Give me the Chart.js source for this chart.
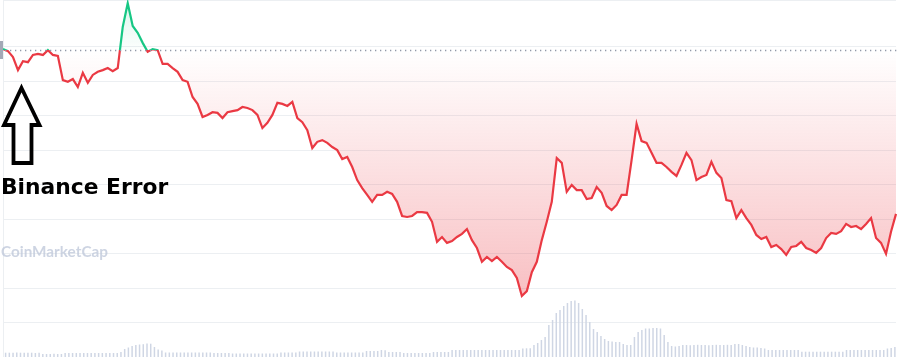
<!DOCTYPE html>
<html>
<head>
<meta charset="utf-8">
<script src="https://cdn.jsdelivr.net/npm/chart.js@4.4.1/dist/chart.umd.min.js"></script>
<style>
  html, body { margin: 0; padding: 0; background: #ffffff; }
  #wrap { width: 898px; height: 357px; position: relative; }
</style>
</head>
<body>
<div id="wrap"><canvas id="c" width="898" height="357"></canvas></div>
<script>
// ---- data ----
const baselinePrice = 89.0; // opening price (dotted reference line)

const priceValues = [
  89.3, 88.7, 87.0, 83.2, 85.8, 85.5, 87.6, 87.9, 87.6, 89.0,
  87.6, 87.3, 80.3, 79.8, 80.6, 78.3, 82.4, 79.5, 81.8, 82.7,
  83.2, 83.8, 82.9, 83.8, 95.7, 102.6, 96.0, 94.0, 91.1, 88.5,
  89.3, 89.0, 85.0, 85.0, 83.8, 82.7, 80.3, 79.8, 75.4, 73.4,
  69.6, 70.2, 71.0, 70.8, 69.3, 71.0, 71.3, 71.6, 72.5, 72.2,
  71.6, 70.2, 66.4, 67.9, 70.2, 73.7, 73.4, 72.8, 74.0, 69.3,
  68.1, 65.8, 60.6, 62.4, 62.9, 62.1, 60.9, 60.0, 57.4, 58.0,
  55.1, 51.3, 49.0, 47.0, 45.0, 47.0, 47.0, 47.9, 47.3, 45.0,
  40.9, 40.6, 40.9, 42.0, 42.0, 41.8, 39.2, 33.4, 34.8, 33.1,
  33.6, 34.8, 35.7, 37.1, 33.9, 31.6, 27.6, 29.0, 27.8, 29.0,
  27.6, 26.1, 25.2, 22.9, 17.7, 19.1, 24.6, 27.6, 33.9, 39.2,
  45.0, 57.7, 56.3, 47.9, 49.9, 48.4, 48.4, 45.8, 46.1, 49.3,
  47.6, 43.8, 42.6, 44.1, 47.0, 47.0, 57.1, 67.6, 62.6, 62.1,
  59.2, 56.3, 56.3, 55.1, 53.7, 52.5, 55.7, 59.2, 57.1, 51.3,
  52.2, 52.8, 56.6, 53.4, 51.9, 45.5, 45.2, 40.3, 42.6, 40.3,
  38.3, 35.4, 34.2, 34.8, 31.9, 32.5, 31.3, 29.6, 31.9, 32.2,
  33.4, 31.6, 31.0, 30.2, 31.6, 34.5, 36.0, 35.7, 36.5, 38.6,
  37.7, 38.0, 37.1, 38.6, 40.3, 34.5, 33.1, 29.9, 36.3, 41.5
];

const volumeValues = [
  43, 43, 43, 45, 43, 43, 43, 43, 40, 43,
  30, 30, 30, 32, 30, 30,
  40, 40, 40, 40, 40, 40, 40, 40, 40, 40, 40, 40, 40, 40, 40,
  50, 80, 95, 110, 120, 125, 128, 135, 133, 100, 75, 65,
  45, 45, 45, 45, 45, 45, 45, 45, 45, 45, 45, 45, 45,
  40, 40, 40, 40, 40,
  35, 35, 35, 35, 35, 35, 35, 35, 35, 35, 35, 35, 35,
  45, 45, 45, 45, 45,
  55, 55, 55, 55, 55, 55, 55, 55, 55, 55,
  45, 45, 45, 45, 45, 45, 45, 45,
  60, 60, 60, 60, 70, 68,
  50, 50, 50, 50,
  40, 40, 40, 40, 40, 40, 40, 40,
  50, 50, 50, 50, 50,
  70, 70, 70, 70, 70, 70, 70, 70, 70, 70, 70, 70, 70, 70, 70, 70, 70, 70, 70,
  85, 87, 88, 120, 140, 170, 200, 320, 370, 440,
  470, 510, 540, 560, 565, 540, 480, 420, 350, 280,
  250, 210, 180, 160, 155, 150, 150, 130, 120, 120,
  200, 250, 270, 285, 285, 290, 290, 285, 220, 150,
  110, 105, 110,
  120, 120, 118, 120, 122, 120, 120, 118, 120, 122, 120, 120, 122, 120,
  130, 130, 120, 110,
  100, 95, 95, 90, 85,
  70, 70, 70, 70, 70, 70, 70, 70, 70,
  53, 53, 53, 53, 53, 53, 53, 53, 53, 53, 53, 53,
  70, 70, 70, 70, 70, 70, 70, 70, 70, 70, 70,
  85, 90, 100
];

const priceLabels = priceValues.map((_, i) => 't' + i);
const volumeLabels = volumeValues.map((_, i) => 'v' + i);

const priceAxisMax = 103.53;
const priceGridStep = 10;
const volumeAxisMax = 3570;

const annotationText = 'Binance Error';
const watermarkText = 'CoinMarketCap';

// ---- colours ----
const RED = '#ea3943';
const GREEN = '#16c784';

function baseFrac(chart) {
  const a = chart.chartArea;
  const yb = chart.scales.y.getPixelForValue(baselinePrice);
  return Math.min(1, Math.max(0, (yb - a.top) / (a.bottom - a.top)));
}

function lineColor(context) {
  const chart = context.chart;
  const a = chart.chartArea;
  if (!a) return RED;
  const f = baseFrac(chart);
  const g = chart.ctx.createLinearGradient(0, a.top, 0, a.bottom);
  g.addColorStop(0, GREEN);
  g.addColorStop(f, GREEN);
  g.addColorStop(f, RED);
  g.addColorStop(1, RED);
  return g;
}

function fillColor(context) {
  const chart = context.chart;
  const a = chart.chartArea;
  if (!a) return 'rgba(234,57,67,0.15)';
  const f = baseFrac(chart);
  const g = chart.ctx.createLinearGradient(0, a.top, 0, a.bottom);
  g.addColorStop(0, 'rgba(22,199,132,0.16)');
  g.addColorStop(f, 'rgba(22,199,132,0.01)');
  g.addColorStop(f, 'rgba(234,57,67,0.0)');
  g.addColorStop(1, 'rgba(234,57,67,0.40)');
  return g;
}

const decorPlugin = {
  id: 'decor',
  beforeDatasetsDraw(chart) {
    const ctx = chart.ctx;
    ctx.save();
    ctx.font = 'bold 15.3px Lato';
    ctx.fillStyle = 'rgba(188,198,216,0.75)';
    ctx.textBaseline = 'alphabetic';
    ctx.fillText(watermarkText, 1, 257);
    ctx.restore();
  },
  afterDatasetsDraw(chart) {
    const ctx = chart.ctx;
    const a = chart.chartArea;
    const yb = Math.round(chart.scales.y.getPixelForValue(baselinePrice)) + 0.5;
    ctx.save();
    // dotted baseline
    ctx.strokeStyle = '#9299a8';
    ctx.lineWidth = 1.3;
    ctx.setLineDash([1.3, 3.7]);
    ctx.beginPath();
    ctx.moveTo(a.left + 2, yb);
    ctx.lineTo(898, yb);
    ctx.stroke();
    ctx.setLineDash([]);
    // cut-off price tag at left
    ctx.fillStyle = '#a3a9b6';
    ctx.fillRect(0, yb - 9.5, 3, 18);
    // hollow arrow
    ctx.strokeStyle = '#000';
    ctx.lineWidth = 3.8;
    ctx.lineJoin = 'miter';
    ctx.beginPath();
    ctx.moveTo(21.5, 88);
    ctx.lineTo(39.5, 125);
    ctx.lineTo(31.5, 125);
    ctx.lineTo(31.5, 163);
    ctx.lineTo(13.5, 163);
    ctx.lineTo(13.5, 125);
    ctx.lineTo(4, 125);
    ctx.closePath();
    ctx.stroke();
    // annotation text
    ctx.fillStyle = '#000';
    ctx.font = 'bold 21.8px "DejaVu Sans"';
    ctx.textBaseline = 'alphabetic';
    ctx.fillText(annotationText, 1, 194);
    ctx.restore();
  }
};

new Chart(document.getElementById('c'), {
  data: {
    labels: priceLabels,
    datasets: [
      {
        type: 'line',
        data: priceValues,
        xAxisID: 'x',
        yAxisID: 'y',
        borderColor: lineColor,
        backgroundColor: fillColor,
        borderWidth: 2.2,
        pointRadius: 0,
        tension: 0,
        fill: { target: { value: baselinePrice } },
        order: 1
      },
      {
        type: 'bar',
        data: volumeValues,
        xAxisID: 'x2',
        yAxisID: 'y2',
        backgroundColor: '#cfd6e4',
        barPercentage: 1,
        categoryPercentage: 0.8,
        order: 2
      }
    ]
  },
  options: {
    responsive: false,
    animation: false,
    layout: { padding: { left: 3, right: 2, top: 0, bottom: 0 } },
    plugins: { legend: { display: false }, tooltip: { enabled: false } },
    scales: {
      x: { type: 'category', display: false, offset: false },
      x2: { type: 'category', labels: volumeLabels, display: false, offset: true },
      y: {
        min: 0, max: priceAxisMax,
        ticks: { display: false, stepSize: priceGridStep },
        grid: { color: '#eceff2', lineWidth: 1, drawTicks: false },
        border: { display: true, color: '#eceff2' }
      },
      y2: { min: 0, max: volumeAxisMax, display: false }
    }
  },
  plugins: [decorPlugin]
});
</script>
</body>
</html>
